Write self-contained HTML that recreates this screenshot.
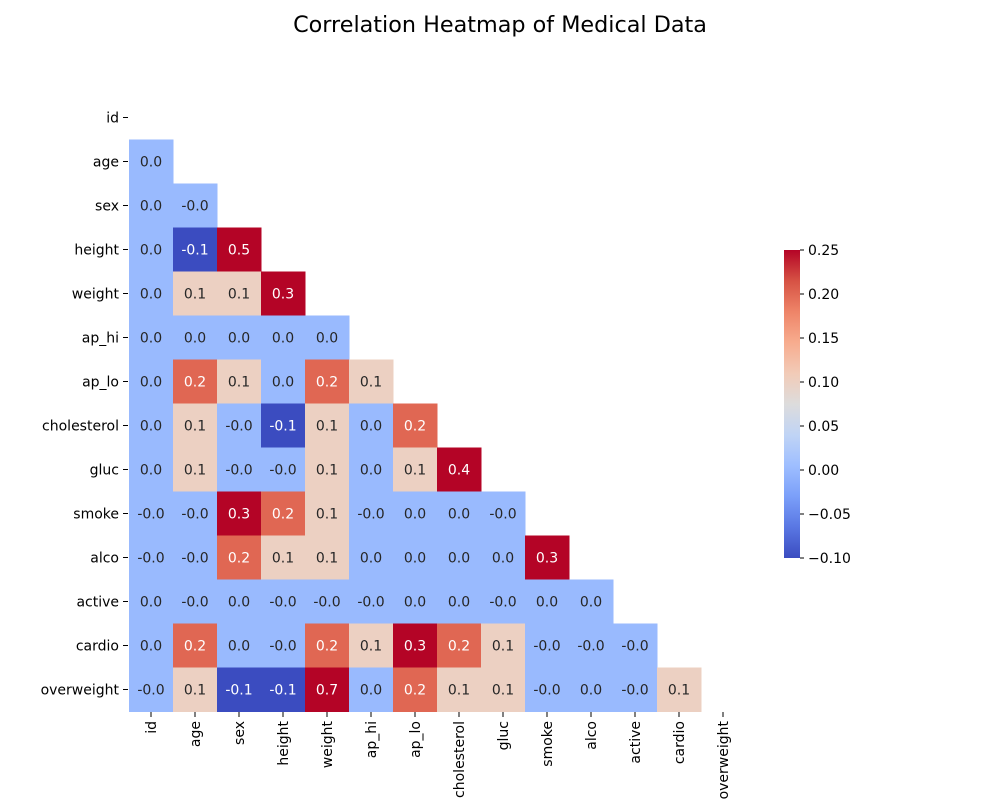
<!DOCTYPE html>
<html><head><meta charset="utf-8"><style>
body{margin:0;background:#fff;}
svg text{font-family:"DejaVu Sans","Liberation Sans",sans-serif;}
</style></head><body>
<svg id="chart" width="1000" height="800" xmlns="http://www.w3.org/2000/svg">
<defs>
<linearGradient id="cw" x1="0" y1="1" x2="0" y2="0">
<stop offset="0" stop-color="#3b4cc0"/><stop offset="0.1" stop-color="#5977e3"/><stop offset="0.2" stop-color="#7b9ff9"/><stop offset="0.3" stop-color="#9ebeff"/><stop offset="0.4" stop-color="#c0d4f5"/><stop offset="0.5" stop-color="#dddcdc"/><stop offset="0.6" stop-color="#f2cbb7"/><stop offset="0.7" stop-color="#f7ac8e"/><stop offset="0.8" stop-color="#ee8468"/><stop offset="0.9" stop-color="#d65244"/><stop offset="1" stop-color="#b40426"/>
</linearGradient>
</defs>
<text x="500" y="32" text-anchor="middle" font-size="22.3">Correlation Heatmap of Medical Data</text>
<g id="cells"></g>
<g id="axes"></g>
<rect x="784" y="250" width="16" height="308" fill="url(#cw)"/>
<g id="cbar"></g>
</svg>
<script>
const labels=["id","age","sex","height","weight","ap_hi","ap_lo","cholesterol","gluc","smoke","alco","active","cardio","overweight"];
const rowAge=[0.0];
const rowSex=[0.0,-0.0];
const rowHeight=[0.0,-0.1,0.5];
const rowWeight=[0.0,0.1,0.1,0.3];
const rowApHi=[0.0,0.0,0.0,0.0,0.0];
const rowApLo=[0.0,0.2,0.1,0.0,0.2,0.1];
const rowChol=[0.0,0.1,-0.0,-0.1,0.1,0.0,0.2];
const rowGluc=[0.0,0.1,-0.0,-0.0,0.1,0.0,0.1,0.4];
const rowSmoke=[-0.0,-0.0,0.3,0.2,0.1,-0.0,0.0,0.0,-0.0];
const rowAlco=[-0.0,-0.0,0.2,0.1,0.1,0.0,0.0,0.0,0.0,0.3];
const rowActive=[0.0,-0.0,0.0,-0.0,-0.0,-0.0,0.0,0.0,-0.0,0.0,0.0];
const rowCardio=[0.0,0.2,0.0,-0.0,0.2,0.1,0.3,0.2,0.1,-0.0,-0.0,-0.0];
const rowOver=[-0.0,0.1,-0.1,-0.1,0.7,0.0,0.2,0.1,0.1,-0.0,0.0,-0.0,0.1];
const rows=[[],rowAge,rowSex,rowHeight,rowWeight,rowApHi,rowApLo,rowChol,rowGluc,rowSmoke,rowAlco,rowActive,rowCardio,rowOver];
const cbTicks=[-0.10,-0.05,0.00,0.05,0.10,0.15,0.20,0.25];
const vmin=-0.1,vmax=0.25;
const X0=129,Y0=95.5,C=44;
const stops=["#3b4cc0","#5977e3","#7b9ff9","#9ebeff","#c0d4f5","#dddcdc","#f2cbb7","#f7ac8e","#ee8468","#d65244","#b40426"].map(h=>[1,3,5].map(i=>parseInt(h.substr(i,2),16)));
function color(v){let t=(v-vmin)/(vmax-vmin);t=Math.max(0,Math.min(1,t));const p=t*10,i=Math.min(9,Math.floor(p)),f=p-i;const c=stops[i].map((a,k)=>Math.round(a+(stops[i+1][k]-a)*f));return `rgb(${c})`;}
function lum(v){let t=(v-vmin)/(vmax-vmin);t=Math.max(0,Math.min(1,t));return t<0.12||t>0.8;}
const NS="http://www.w3.org/2000/svg";
function mk(tag,attrs,parent){const e=document.createElementNS(NS,tag);for(const k in attrs)e.setAttribute(k,attrs[k]);parent.appendChild(e);return e;}
const cells=document.getElementById('cells'),axes=document.getElementById('axes'),cbar=document.getElementById('cbar');
const xs=j=>X0+j*C, ys=i=>Y0+i*C;
const FS='14';
rows.forEach((r,i)=>r.forEach((v,j)=>{
 const rc=mk('rect',{x:xs(j),y:ys(i),width:C+0.5,height:C+0.5,fill:color(v)},cells);
 
 
 const t=mk('text',{x:xs(j)+C/2,y:ys(i)+C/2+5,'text-anchor':'middle','font-size':FS,fill:lum(v)?'#fff':'#262626'},cells);
 
 
 t.textContent=(v===0&&1/v<0?'-':'')+v.toFixed(1);
}));
labels.forEach((l,i)=>{
 const cy=ys(i)+C/2;
 mk('line',{x1:123,x2:128,y1:cy,y2:cy,stroke:'#000','stroke-width':1},axes);
 const t=mk('text',{x:119,y:cy+5,'text-anchor':'end','font-size':FS,fill:'#000'},axes);
 
 
 t.textContent=l;
 const cx=xs(i)+C/2;
 mk('line',{x1:cx,x2:cx,y1:712,y2:717,stroke:'#000','stroke-width':1},axes);
 const tx=mk('text',{x:0,y:0,'text-anchor':'end','font-size':FS,fill:'#000',transform:`translate(${cx+5},721) rotate(-90)`},axes);
 
 
 tx.textContent=l;
});
cbTicks.forEach(v=>{
 const y=558-(v-vmin)/(vmax-vmin)*308;
 mk('line',{x1:800,x2:804,y1:y,y2:y,stroke:'#000','stroke-width':1},cbar);
 const t=mk('text',{x:808,y:y+5,'font-size':FS,fill:'#000'},cbar);
 
 
 t.textContent=(v<0?'\u2212':'')+Math.abs(v).toFixed(2);
});
</script>
</body></html>
